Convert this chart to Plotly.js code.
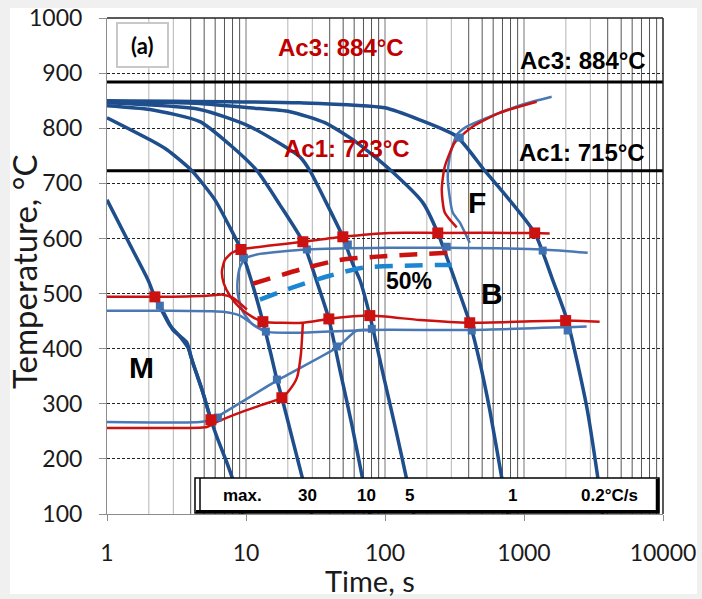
<!DOCTYPE html>
<html>
<head>
<meta charset="utf-8">
<script src="https://cdn.plot.ly/plotly-3.0.1.min.js"></script>
<style>
  html, body { margin: 0; padding: 0; background: #f0f0f0; }
  #panel { position: absolute; left: 10px; top: 8px; width: 687px; height: 586px; background: #fff; }
  #chart { position: absolute; left: 0; top: 0; width: 702px; height: 599px; }
</style>
</head>
<body>
<div id="panel"></div>
<div id="chart"></div>
<script>
// ---- cooling curves: time (s) and temperature (°C) ----
const maxTime = [1, 1.46, 1.97, 2.21, 2.49, 2.98, 3.76, 4.02, 4.36, 4.90, 5.59, 6.28, 7.29, 8.05, 9.50];
const maxTemp = [670, 589, 525, 494, 471, 434, 411, 385, 358, 320, 271, 235, 193, 162, 100];
const maxAltTime = [2.21, 2.53, 2.84, 3.35, 3.82, 4.15, 4.82, 5.59];
const maxAltTemp = [494, 465, 442, 422, 402, 374, 326, 271];

const r30Time = [1, 2.04, 2.70, 4.08, 5.98, 7.66, 9.19, 11.03, 13.23, 14.85, 16.68, 18.12, 21.38, 25.65, 29.76];
const r30Temp = [819, 779, 761, 723, 670, 620, 580, 520, 449, 398, 344, 311, 240, 162, 100];

const r10Time = [1, 2.04, 4.66, 7.66, 11.98, 17.53, 25.65, 32.88, 39.45, 47.32, 57.72, 69.25, 77.77];
const r10Temp = [841, 834, 812, 770, 723, 661, 594, 516, 454, 362, 262, 162, 100];

const r5Time = [1, 4.66, 10.67, 24.41, 28.80, 36.9, 49.73, 57.72, 65.89, 77.77, 99.7, 119.6, 143.5, 161.1];
const r5Temp = [846, 834, 803, 748, 723, 670, 603, 558, 525, 460, 340, 253, 162, 100];

const r1Time = [1, 4.66, 10.67, 20.69, 36.9, 62.71, 108.3, 187.0, 239.7, 317.6, 407.0, 480.3, 566.9, 691.4, 763.4];
const r1Temp = [848, 845, 837, 830, 810, 774, 725, 665, 610, 525, 447, 376, 289, 166, 100];

const r02Time = [1, 24.41, 99.7, 177.9, 328.3, 521.9, 750.9, 1193.7, 1608, 2061, 2823, 3387, 3681];
const r02Temp = [850, 846, 837, 815, 785, 723, 676, 610, 525, 449, 295, 168, 100];

// ---- critical temperatures ----
const acTemps = [884, 723];
const axisSpan = [1, 10000];

// ---- red transformation boundaries ----
const redBayTime = [3500, 1994, 407.0, 177.9, 77.77, 39.45, 25.65, 13.23, 11.03, 9.04, 7.66, 6.93, 6.71, 7.05, 7.92, 9.19, 14.85, 25.65, 49.73, 108.3, 239.7, 1193.7, 1530];
const redBayTemp = [449, 451, 447, 452, 460, 454, 447, 449, 458, 474, 496, 518, 540, 561, 574, 580, 587, 594, 603, 610, 610, 610, 609];
const redBsTime = [1, 2.21, 5.24, 6.82, 8.05, 10.15];
const redBsTemp = [494, 494, 496, 498, 492, 471];
const redMsTime = [1, 2.04, 5.24, 6.18, 9.04, 13.01, 18.12, 20.69, 23.23, 24.81, 25.65];
const redMsTemp = [256, 256, 258, 267, 284, 298, 311, 326, 347, 389, 447];
const redFerTime = [1234, 669, 428, 318, 269, 256, 269, 328];
const redFerTemp = [848, 828, 803, 774, 730, 688, 647, 620];
const red50Time = [11.21, 25.65, 47.32, 87.3, 282.8];
const red50Temp = [518, 545, 561, 567, 574];
const redPtTime = [2.21, 5.59, 9.19, 13.23, 18.12, 25.65, 39.45, 49.73, 77.77, 239.7, 407.0, 1193.7, 1994];
const redPtTemp = [494, 271, 580, 449, 311, 594, 454, 603, 460, 610, 447, 610, 451];

// ---- blue transformation boundaries ----
const bluBayTime = [2823, 407.0, 80.38, 24.41, 13.90, 11.03, 9.50, 8.74, 8.74, 9.19, 10.15, 12.59, 27.41, 108.3, 278.2, 1362.8, 2871];
const bluBayTemp = [440, 434, 434, 429, 431, 445, 467, 498, 529, 552, 565, 572, 580, 583, 583, 580, 574];
const bluBsTime = [1, 2.40, 6.82, 9.04, 11.59, 13.90];
const bluBsTemp = [469, 469, 467, 460, 442, 431];
const bluMsTime = [1, 4.66, 5.69, 6.28, 16.68, 45.03, 62.71, 80.38];
const bluMsTemp = [267, 267, 271, 277, 342, 402, 433, 434];
const bluFerTime = [1581, 979, 567, 387, 328, 292, 283, 307, 345, 407];
const bluFerTemp = [857, 843, 821, 803, 788, 748, 707, 647, 629, 592];
const blu50Time = [12.59, 21.74, 38.15, 69.25, 302.2];
const blu50Temp = [489, 511, 531, 547, 552];
const bluPtTime = [2.40, 6.28, 9.66, 13.90, 16.68, 27.41, 45.03, 54.03, 80.38, 278.2, 420.7, 1362.8, 2061, 345.1];
const bluPtTemp = [478, 275, 565, 431, 344, 580, 404, 589, 436, 585, 433, 578, 433, 783];

// ---- axis and box labels ----
const timeTicks = [1, 10, 100, 1000, 10000];
const timeTickText = ['1', '10', '100', '1000', '10000'];
const tempTicks = [100, 200, 300, 400, 500, 600, 700, 800, 900, 1000];
const rateLabels = ['max.', '30', '10', '5', '1', '0.2°C/s'];
const rateLabelX = [242, 307, 366, 409, 512, 609];

// plot area in page pixels, used for placing decorations
const PX0 = 107, PX1 = 663, PY0 = 18, PY1 = 514;
const fx = p => (p - PX0) / (PX1 - PX0);
const fy = p => (PY1 - p) / (PY1 - PY0);

const COOL = '#1f4e8c', BLUE = '#4a78b4', RED = '#cc1111';

function curve(x, y, color, width, dash) {
  return { x, y, type: 'scatter', mode: 'lines', hoverinfo: 'skip',
           line: { color, width, shape: 'spline', smoothing: 0.6, dash: dash || 'solid' } };
}

const traces = [];
acTemps.forEach(v => traces.push({ x: axisSpan, y: [v, v], type: 'scatter', mode: 'lines',
  line: { color: '#000', width: 3 }, hoverinfo: 'skip' }));
[[maxTime, maxTemp], [maxAltTime, maxAltTemp], [r30Time, r30Temp], [r10Time, r10Temp],
 [r5Time, r5Temp], [r1Time, r1Temp], [r02Time, r02Temp]].forEach(c => traces.push(curve(c[0], c[1], COOL, 3.5)));
[[bluBayTime, bluBayTemp], [bluBsTime, bluBsTemp], [bluMsTime, bluMsTemp], [bluFerTime, bluFerTemp]]
  .forEach(c => traces.push(curve(c[0], c[1], BLUE, 2.5)));
[[redBayTime, redBayTemp], [redBsTime, redBsTemp], [redMsTime, redMsTemp], [redFerTime, redFerTemp]]
  .forEach(c => traces.push(curve(c[0], c[1], RED, 2.5)));
traces.push(curve(red50Time, red50Temp, RED, 4.5, '18px,12px'));
traces.push(curve(blu50Time, blu50Temp, '#1b87d2', 4.5, '18px,12px'));
traces.push({ x: bluPtTime, y: bluPtTemp, type: 'scatter', mode: 'markers', hoverinfo: 'skip',
  marker: { symbol: 'square', size: 8, color: '#3f70b0' } });
traces.push({ x: redPtTime, y: redPtTemp, type: 'scatter', mode: 'markers', hoverinfo: 'skip',
  marker: { symbol: 'square', size: 11, color: '#cc1111' } });

// log-decade grid lines
const shapes = [];
for (let d = 0; d < 4; d++) {
  for (let k = 1; k <= 9; k++) {
    if (d === 0 && k === 1) continue;
    const v = k * Math.pow(10, d);
    const col = k === 1 ? '#777' : (k <= 3 ? '#b5b5b5' : '#555');
    shapes.push({ type: 'line', layer: 'below', xref: 'x', yref: 'paper', x0: v, x1: v, y0: 0, y1: 1,
                  line: { color: col, width: 1 } });
  }
}
// frame on top and right
shapes.push({ type: 'line', xref: 'paper', yref: 'paper', x0: 0, x1: 1, y0: 1, y1: 1, line: { color: '#222', width: 1.5 } });
shapes.push({ type: 'line', xref: 'paper', yref: 'paper', x0: 1, x1: 1, y0: 0, y1: 1, line: { color: '#222', width: 1.5 } });
// panel tag frame
shapes.push({ type: 'rect', layer: 'below', xref: 'paper', yref: 'paper', x0: fx(117), x1: fx(168), y0: fy(67), y1: fy(23),
              fillcolor: '#fff', line: { color: '#c8c8c8', width: 2 } });
// cooling-rate key box
shapes.push({ type: 'rect', layer: 'above', xref: 'paper', yref: 'paper', x0: fx(195), x1: fx(659), y0: fy(513), y1: fy(478),
              fillcolor: '#fff', line: { color: '#000', width: 1.5 } });
shapes.push({ type: 'line', layer: 'above', xref: 'paper', yref: 'paper', x0: fx(200), x1: fx(200), y0: fy(513), y1: fy(478),
              line: { color: '#000', width: 1.5 } });
shapes.push({ type: 'line', layer: 'above', xref: 'paper', yref: 'paper', x0: fx(657.5), x1: fx(657.5), y0: fy(513), y1: fy(479),
              line: { color: '#000', width: 3.5 } });
shapes.push({ type: 'line', layer: 'above', xref: 'paper', yref: 'paper', x0: fx(196), x1: fx(659), y0: fy(511.5), y1: fy(511.5),
              line: { color: '#000', width: 3 } });

const BOLD = 'Liberation Sans, Arial, sans-serif';
const PLAIN = 'Lato, sans-serif';
function label(text, px, py, size, color, family) {
  return { text, x: fx(px), y: fy(py), xref: 'paper', yref: 'paper', showarrow: false,
           xanchor: 'center', yanchor: 'middle',
           font: { family: family || BOLD, size, color: color || '#000', weight: 'bold' } };
}
const annotations = [
  label('(a)', 142, 46, 22, '#000', PLAIN),
  label('Ac3: 884°C', 341, 48, 24, '#c00000'),
  label('Ac1: 723°C', 347, 148, 24, '#c00000'),
  label('Ac3: 884°C', 583, 60, 24, '#000'),
  label('Ac1: 715°C', 582, 152, 24, '#000'),
  label('F', 477, 203, 30),
  label('B', 492, 293, 30),
  label('M', 141, 368, 30),
  label('50%', 409, 281, 23)
];
rateLabels.forEach((t, i) => annotations.push(label(t, rateLabelX[i], 495, 17)));
// axis titles
annotations.push({ text: 'Temperature, °C', x: fx(24), y: fy(272), xref: 'paper', yref: 'paper', showarrow: false,
  textangle: -90, xanchor: 'center', yanchor: 'middle', font: { family: PLAIN, size: 33, color: '#1a1a1a' } });
annotations.push({ text: 'Time, s', x: fx(370), y: fy(580), xref: 'paper', yref: 'paper', showarrow: false,
  xanchor: 'center', yanchor: 'middle', font: { family: PLAIN, size: 29, color: '#1a1a1a' } });

const layout = {
  width: 702, height: 599,
  margin: { l: 107, r: 39, t: 18, b: 85 },
  paper_bgcolor: 'rgba(0,0,0,0)', plot_bgcolor: '#fff',
  showlegend: false,
  font: { family: PLAIN, color: '#1a1a1a' },
  xaxis: {
    type: 'log', range: [0, 4], tickvals: timeTicks, ticktext: timeTickText,
    ticks: 'outside', ticklen: 6, tickcolor: '#8c8c8c', showline: true, linecolor: '#8c8c8c',
    ticklabelstandoff: 12, ticklabeloverflow: 'allow',
    showgrid: false, zeroline: false, tickfont: { family: PLAIN, size: 23, color: '#1a1a1a' }
  },
  yaxis: {
    range: [100, 1000], tickvals: tempTicks,
    ticks: 'outside', ticklen: 7, tickcolor: '#8c8c8c', showline: true, linecolor: '#8c8c8c',
    ticklabelstandoff: 12, ticklabeloverflow: 'allow',
    showgrid: true, gridcolor: '#222', gridwidth: 1, griddash: '3px,2px', zeroline: false,
    tickfont: { family: PLAIN, size: 23, color: '#1a1a1a' }
  },
  shapes, annotations
};

Plotly.newPlot('chart', traces, layout, { staticPlot: true, displayModeBar: false });
</script>
</body>
</html>
